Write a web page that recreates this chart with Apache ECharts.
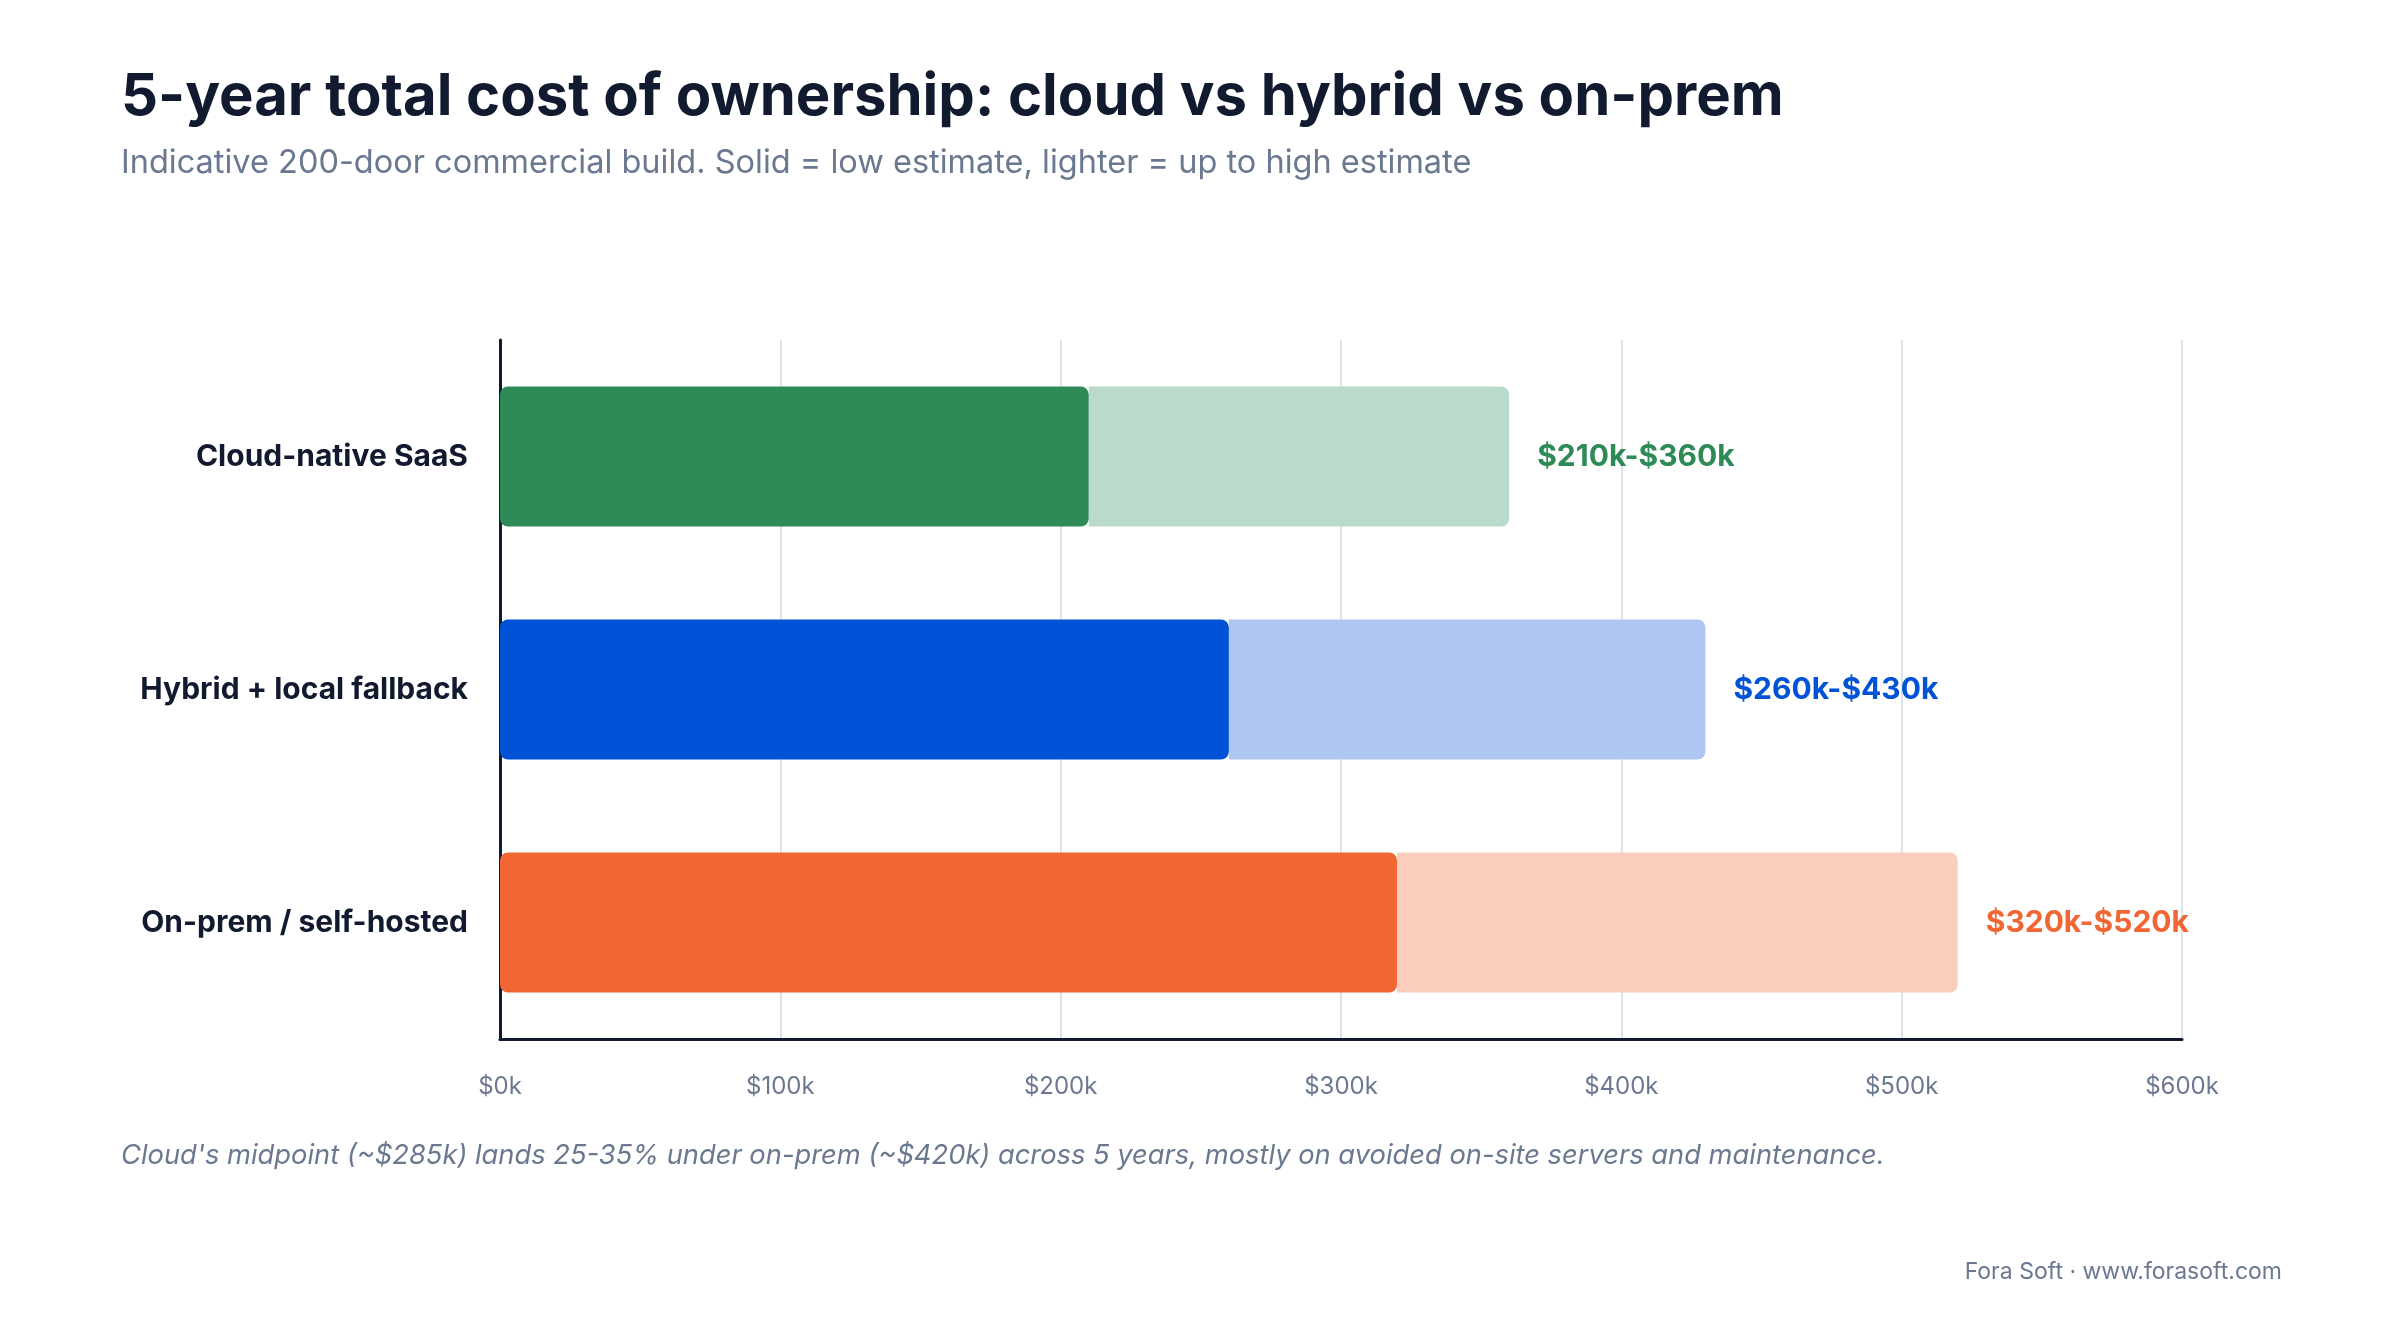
<!DOCTYPE html>
<html>
<head>
<meta charset="utf-8">
<script src="https://cdn.jsdelivr.net/npm/echarts@6/dist/echarts.min.js"></script>
<style>
  html, body { margin: 0; padding: 0; background: #fff; }
  #chart { width: 2400px; height: 1320px; }
</style>
</head>
<body>
<div id="chart"></div>
<script>
var categories = ['Cloud-native SaaS', 'Hybrid + local fallback', 'On-prem / self-hosted'];
var lowValues = [210, 260, 320];
var highValues = [360, 430, 520];
var solidColors = ['#2e8b57', '#0052d6', '#f26633'];
var lightColors = ['#badacb', '#aec6f1', '#fbcdbd'];
var xTicks = [0, 100, 200, 300, 400, 500, 600];

var myChart = echarts.init(document.getElementById('chart'));
var font = 'Inter, "Noto Sans", sans-serif';

var option = {
  backgroundColor: '#ffffff',
  textStyle: { fontFamily: font },
  title: [
    {
      text: '5-year total cost of ownership: cloud vs hybrid vs on-prem',
      left: 116, top: 64,
      textStyle: { fontSize: 58, fontWeight: 'bold', color: '#111a2e', fontFamily: font }
    },
    {
      text: 'Indicative 200-door commercial build. Solid = low estimate, lighter = up to high estimate',
      left: 116, top: 142,
      textStyle: { fontSize: 32.5, fontWeight: 'normal', color: '#6a7890', fontFamily: font }
    },
    {
      text: "Cloud's midpoint (~$285k) lands 25-35% under on-prem (~$420k) across 5 years, mostly on avoided on-site servers and maintenance.",
      left: 116, top: 1137,
      textStyle: { fontSize: 27.3, fontWeight: 'normal', fontStyle: 'italic', color: '#6a7890', fontFamily: font }
    },
    {
      text: 'Fora Soft · www.forasoft.com',
      right: 113, top: 1256,
      textStyle: { fontSize: 23, fontWeight: 'normal', color: '#6a7890', fontFamily: font }
    }
  ],
  grid: { left: 500, right: 218, top: 340, bottom: 281, containLabel: false },
  xAxis: {
    type: 'value',
    min: 0, max: 600, interval: 100,
    axisLine: { show: true, lineStyle: { color: '#111a2e', width: 3 } },
    axisTick: { show: false },
    splitLine: { show: true, lineStyle: { color: '#dde3ec', width: 2 } },
    axisLabel: {
      margin: 36, fontSize: 24, color: '#6a7890',
      formatter: function (v) { return xTicks.indexOf(v) >= 0 ? '$' + v + 'k' : ''; }
    }
  },
  yAxis: {
    type: 'category',
    data: categories,
    inverse: true,
    axisLine: { show: true, lineStyle: { color: '#111a2e', width: 3 } },
    axisTick: { show: false },
    axisLabel: { margin: 32, fontSize: 30, fontWeight: 'bold', color: '#111a2e' }
  },
  series: [
    {
      type: 'bar',
      stack: 'cost',
      barWidth: 140,
      z: 3,
      data: lowValues.map(function (v, i) {
        return { value: v, itemStyle: { color: solidColors[i], borderRadius: 8 } };
      })
    },
    {
      type: 'bar',
      stack: 'cost',
      barWidth: 140,
      z: 2,
      data: highValues.map(function (v, i) {
        return {
          value: v - lowValues[i],
          itemStyle: { color: lightColors[i], borderRadius: [0, 8, 8, 0] },
          label: {
            show: true, position: 'right', distance: 28,
            fontSize: 30, fontWeight: 'bold', color: solidColors[i],
            formatter: '$' + lowValues[i] + 'k-$' + v + 'k'
          }
        };
      })
    }
  ]
};
myChart.setOption(option);
</script>
</body>
</html>
